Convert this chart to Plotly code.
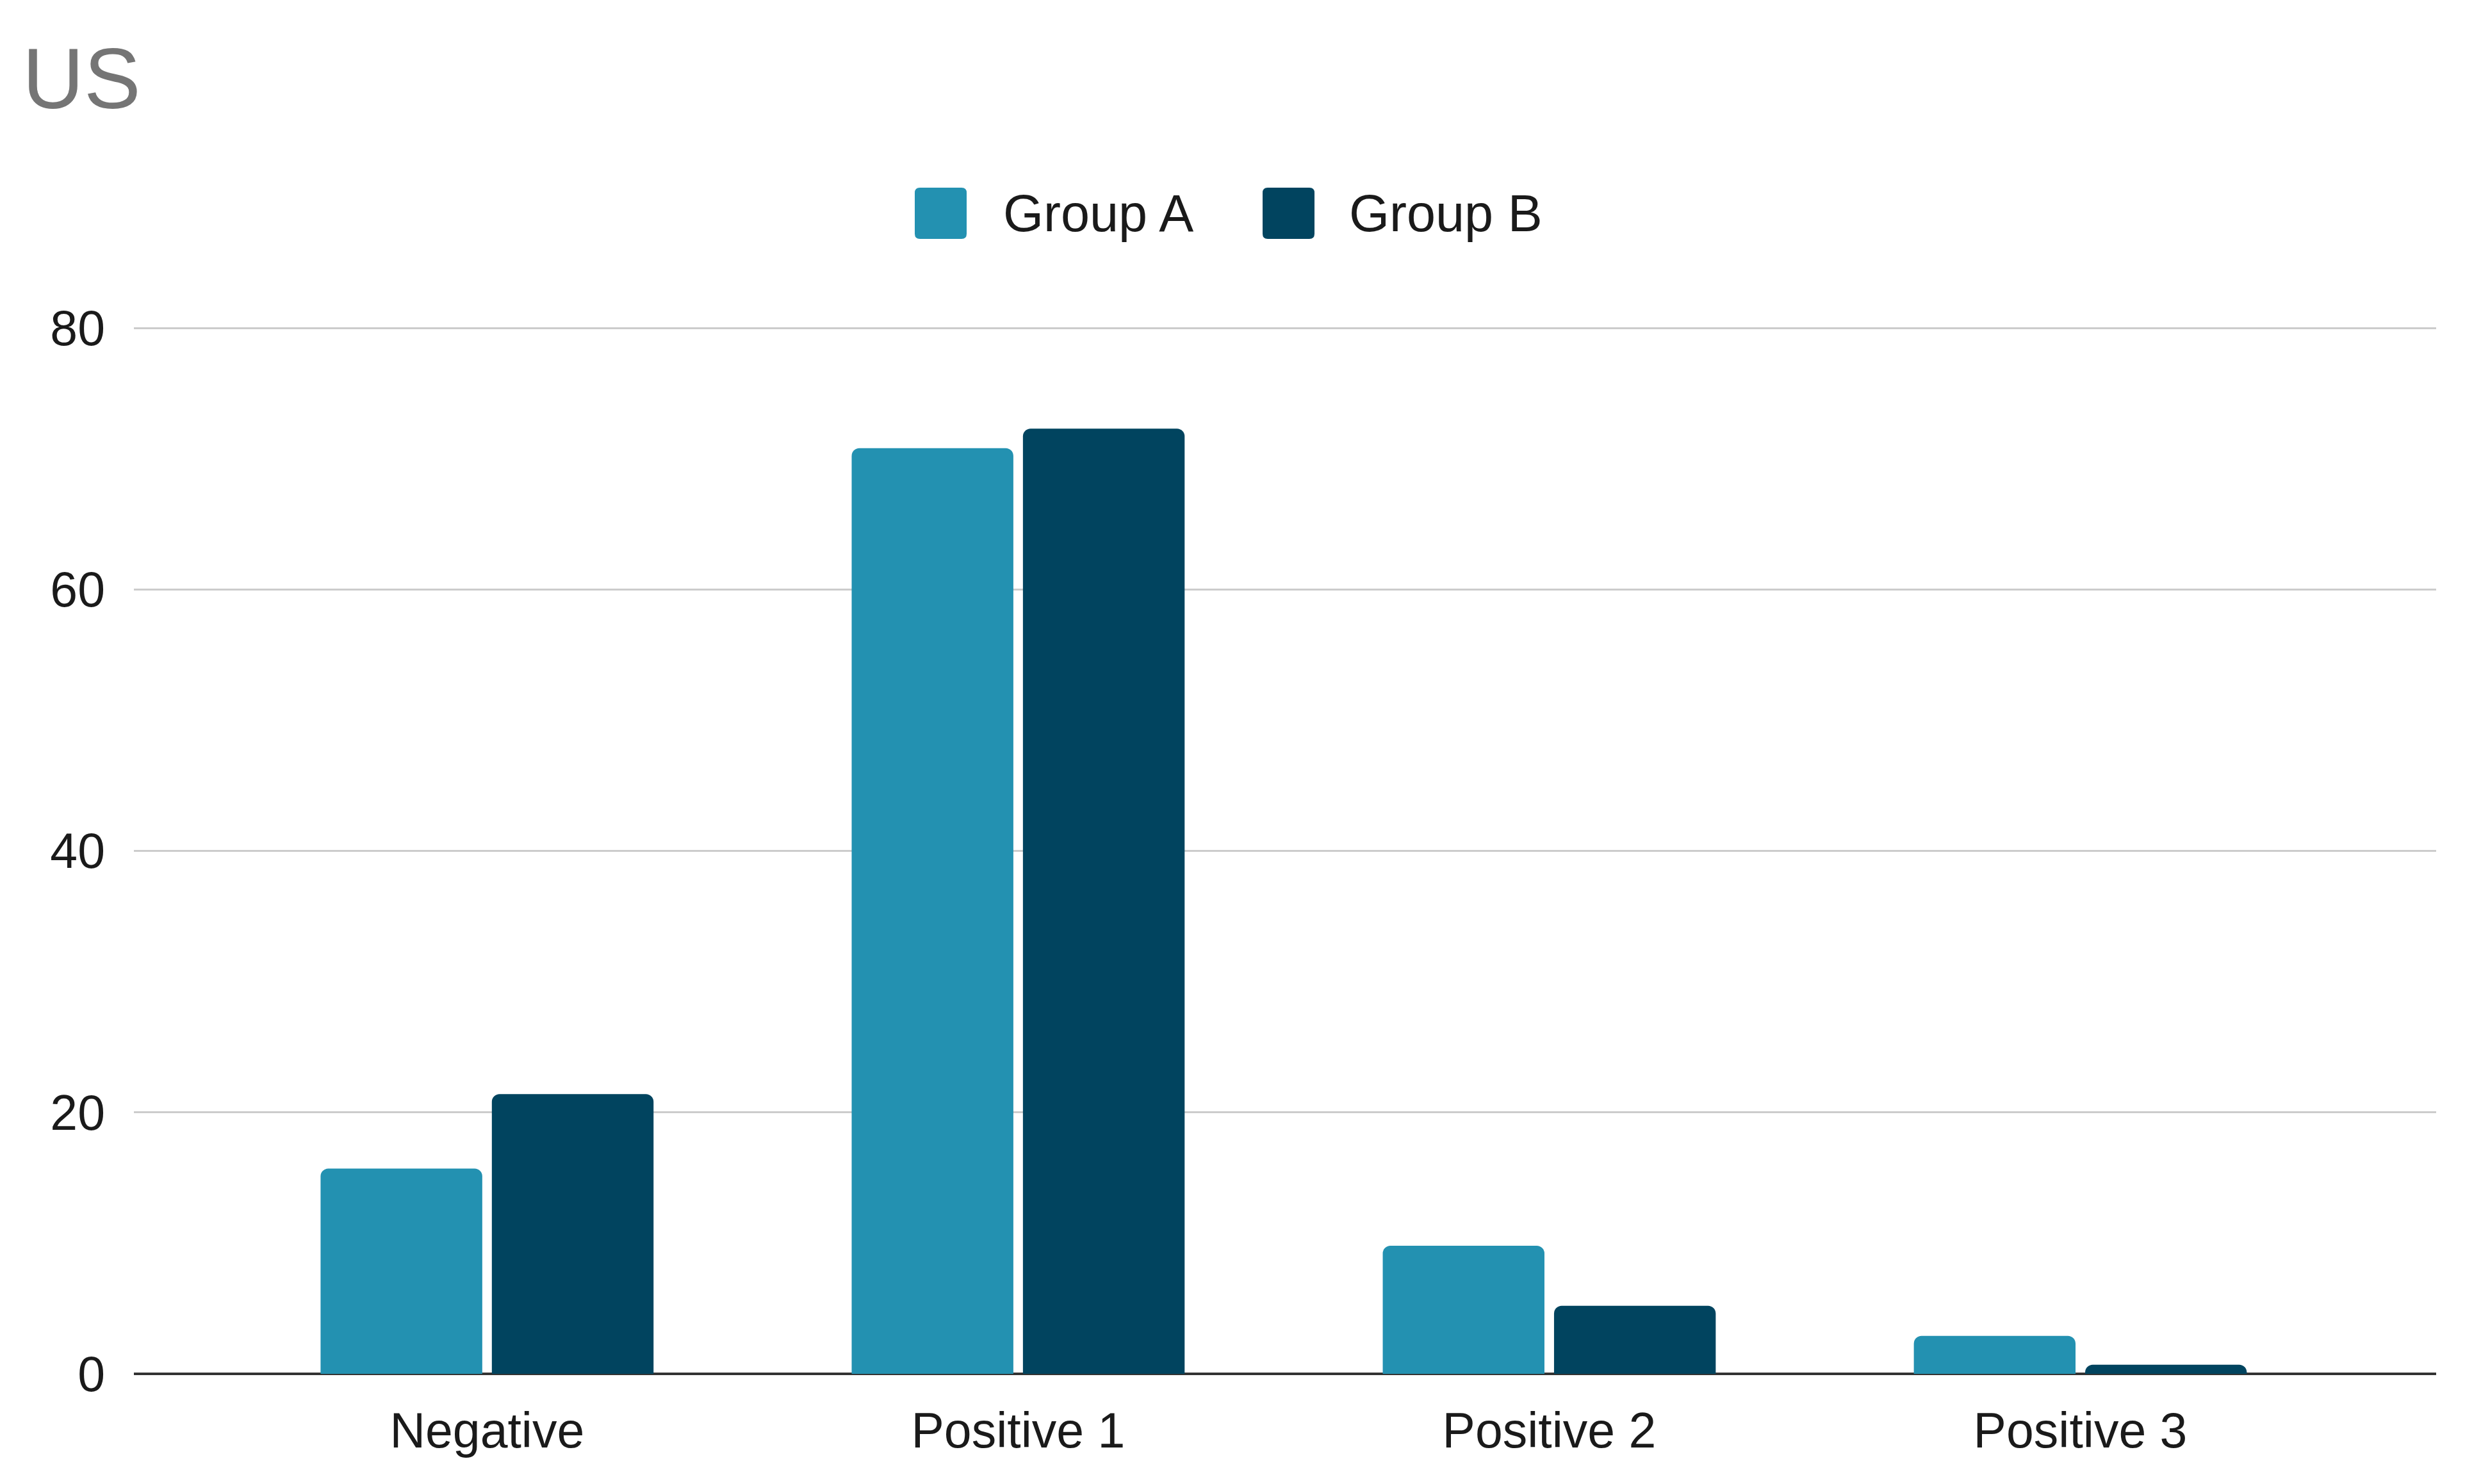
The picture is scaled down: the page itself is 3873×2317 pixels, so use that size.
import plotly.graph_objects as go

categories = ["Negative", "Positive 1", "Positive 2", "Positive 3"]
group_a = [15.7, 70.8, 9.8, 2.9]
group_b = [21.4, 72.3, 5.2, 0.7]
series_names = ["Group A", "Group B"]
series_colors = ["#2391B1", "#01445F"]
y_ticks = [0, 20, 40, 60, 80]

# page has an 8px body margin, so the figure is drawn 8px in and down
W, H = 3865, 2309
L, R, T, B = 201, 70, 502, 172
FONT = "Liberation Sans, Arial, sans-serif"
PW, PH = W - L - R, H - T - B


def px_x(x):
    return (x - L) / PW


def px_y(y):
    return 1 - (y - T) / PH


fig = go.Figure()
for name, vals, col in zip(series_names, [group_a, group_b], series_colors):
    fig.add_trace(go.Bar(
        x=categories, y=vals, name=name,
        marker=dict(color=col, line=dict(width=0), cornerradius=12),
        showlegend=False,
    ))

# manual legend (large rounded squares)
legend_items = [(1420, 1556), (1963, 2096)]
for (sx, tx), name, col in zip(legend_items, series_names, series_colors):
    x0, x1 = sx, sx + 81
    y0, y1 = 285, 365
    r = 8
    path = (f"M {x0 + r},{y0} L {x1 - r},{y0} Q {x1},{y0} {x1},{y0 + r} "
            f"L {x1},{y1 - r} Q {x1},{y1} {x1 - r},{y1} L {x0 + r},{y1} "
            f"Q {x0},{y1} {x0},{y1 - r} L {x0},{y0 + r} Q {x0},{y0} {x0 + r},{y0} Z")
    # convert pixel path to paper coords
    import re
    def conv(m):
        a, b = float(m.group(1)), float(m.group(2))
        return f"{px_x(a):.6f},{px_y(b):.6f}"
    path = re.sub(r"([\d.]+),([\d.]+)", conv, path)
    fig.add_shape(type="path", xref="paper", yref="paper", path=path,
                  fillcolor=col, line=dict(width=0))
    fig.add_annotation(text=name, xref="paper", yref="paper",
                       x=px_x(tx), y=px_y(325),
                       xanchor="left", yanchor="middle", showarrow=False,
                       font=dict(family=FONT, size=81, color="#1a1a1a"))

fig.update_layout(
    width=W, height=H,
    margin=dict(l=L, r=R, t=T, b=B, pad=0),
    paper_bgcolor="white", plot_bgcolor="white",
    barmode="group", bargap=0.355, bargroupgap=0.056,
    title=dict(text="US", x=27 / W, xanchor="left", y=1 - 114 / H, yanchor="middle",
               font=dict(family=FONT, size=133, color="#757575")),
    font=dict(family=FONT, size=77, color="#1a1a1a"),
)
fig.update_xaxes(range=[-0.665, 3.67], showgrid=False, showline=False,
                 tickfont=dict(family=FONT, size=77, color="#1a1a1a"),
                 ticks="", ticklabelstandoff=37, zeroline=False)
fig.update_yaxes(range=[0, 80.1], tickvals=y_ticks, showgrid=True, gridcolor="#CCCCCC",
                 gridwidth=3, zeroline=True, zerolinecolor="#333333", zerolinewidth=4,
                 showline=False, ticks="", ticklabelstandoff=44,
                 tickfont=dict(family=FONT, size=77, color="#1a1a1a"))

fig.write_html("out.html")
